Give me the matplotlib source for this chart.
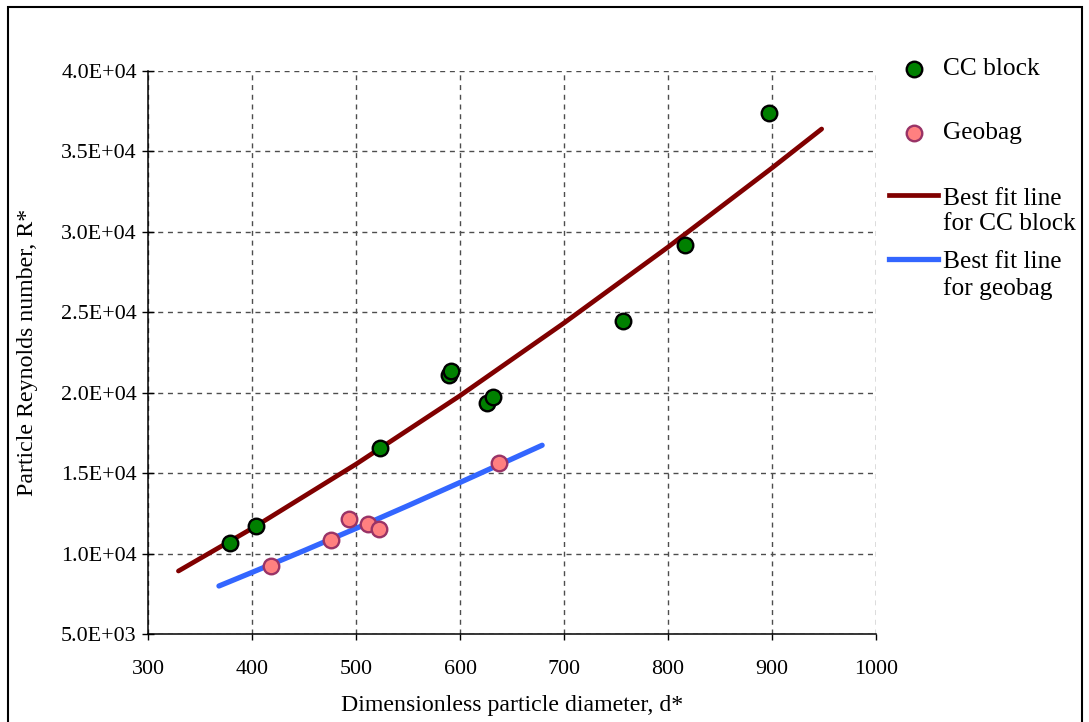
import matplotlib
matplotlib.use("Agg")
import matplotlib.pyplot as plt
from matplotlib.ticker import FuncFormatter, MultipleLocator
from matplotlib.lines import Line2D
from matplotlib.patches import Rectangle

plt.rcParams['font.family'] = ['Liberation Serif', 'DejaVu Serif']

# ---- data ----
cc_d = [378.6, 403.4, 522.7, 589.4, 591.3, 626.2, 631.4, 756.5, 816.8, 897.3]
cc_r = [10650, 11740, 16550, 21100, 21350, 19350, 19720, 24480, 29160, 37350]

geo_d = [418.1, 475.8, 493.4, 511.1, 521.7, 637.2]
geo_r = [9260, 10840, 12160, 11830, 11560, 15660]

cc_fit_d = [329, 400, 500, 600, 700, 800, 900, 948]
cc_fit_r = [8930, 11580, 15570, 19820, 24330, 29040, 33950, 36380]

geo_fit_d = [368, 400, 450, 500, 550, 600, 650, 679]
geo_fit_r = [8000, 8850, 10200, 11580, 12990, 14430, 15890, 16740]

labels = ["CC block", "Geobag", "Best fit line\nfor CC block", "Best fit line\nfor geobag"]

W, H = 1089, 722
fig = plt.figure(figsize=(W / 100, H / 100), dpi=100)
ax = fig.add_axes([148.3 / W, 1 - 634.3 / H, (875.7 - 148.3) / W, (634.3 - 70.7) / H])

cc_col, cc_edge = '#008000', '#000000'
geo_col, geo_edge = '#FF8080', '#993366'
cc_line, geo_line = '#800000', '#3366FF'

MS, MEW = 11.2, 1.7

ax.plot(cc_fit_d, cc_fit_r, color=cc_line, lw=3.4, solid_capstyle='round', zorder=3)
ax.plot(geo_fit_d, geo_fit_r, color=geo_line, lw=3.8, solid_capstyle='round', zorder=3)
ax.plot(cc_d, cc_r, 'o', ms=MS, mfc=cc_col, mec=cc_edge, mew=MEW, zorder=4)
ax.plot(geo_d, geo_r, 'o', ms=MS, mfc=geo_col, mec=geo_edge, mew=MEW, zorder=4)

ax.set_xlim(300, 1000)
ax.set_ylim(5000, 40000)
ax.xaxis.set_major_locator(MultipleLocator(100))
ax.yaxis.set_major_locator(MultipleLocator(5000))
ax.yaxis.set_major_formatter(FuncFormatter(lambda v, p: f"{v:.1E}"))

ax.grid(True, color='#4d4d4d', lw=1.0, linestyle=(0, (3.6, 3.4)))
ax.set_axisbelow(True)
for s in ['top', 'right']:
    ax.spines[s].set_visible(False)
for s in ['left', 'bottom']:
    ax.spines[s].set_linewidth(1.1)
    ax.spines[s].set_color('black')

ax.tick_params(axis='y', direction='inout', length=8.6, width=1.0, labelsize=15.8, pad=4)
ax.tick_params(axis='x', direction='out', length=4.2, width=1.0, labelsize=15.8, pad=14)

FS = 17.2
ax.set_xlabel("Dimensionless particle diameter, d*", fontsize=FS, labelpad=12)
ax.set_ylabel("Particle Reynolds number, R*", fontsize=FS, labelpad=16.5)

# ---- legend (drawn in figure pixel coordinates) ----
def fx(x):
    return x / W

def fy(y):
    return 1 - y / H

LFS = 18.3
fig.add_artist(Line2D([fx(913.7)], [fy(69.3)], marker='o', ms=MS, mfc=cc_col, mec=cc_edge, mew=MEW, ls='none'))
fig.text(fx(943), fy(69.3), labels[0], fontsize=LFS, va='center', ha='left')
fig.add_artist(Line2D([fx(913.7)], [fy(133.3)], marker='o', ms=MS, mfc=geo_col, mec=geo_edge, mew=MEW, ls='none'))
fig.text(fx(943), fy(133.3), labels[1], fontsize=LFS, va='center', ha='left')
fig.add_artist(Line2D([fx(889), fx(938)], [fy(195), fy(195)], color=cc_line, lw=3.4))
fig.text(fx(943), fy(211.7), labels[2], fontsize=LFS, va='center', ha='left', linespacing=1.2)
fig.add_artist(Line2D([fx(889), fx(938)], [fy(259), fy(259)], color=geo_line, lw=3.8))
fig.text(fx(943), fy(275.4), labels[3], fontsize=LFS, va='center', ha='left', linespacing=1.2)

# outer chart border
fig.add_artist(Rectangle((fx(8), -0.02), fx(1082.3) - fx(8), fy(7.3) + 0.02,
                         fill=False, ec='black', lw=1.5, transform=fig.transFigure))

fig.savefig("out.png", dpi=100)
